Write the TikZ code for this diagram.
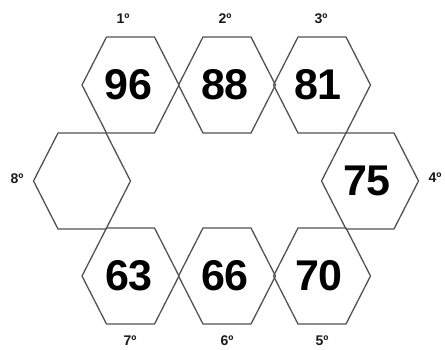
\documentclass[tikz,border=0pt]{standalone}
\usepackage{fontspec}
\setmainfont{Liberation Sans}
\begin{document}
\begin{tikzpicture}[x=1pt,y=-1pt,
  hexline/.style={draw=black!68,line width=1.3pt,line join=miter},
  numtxt/.style={font=\fontsize{43}{43}\selectfont\bfseries,inner sep=0pt,text=black},
  ordtxt/.style={font=\fontsize{14}{14}\selectfont\bfseries,inner sep=0pt,text=black!90}]
\useasboundingbox (0,0) rectangle (445,349);
\def\hexat#1#2{\draw[hexline] (#1-48.5,#2) -- (#1-24,#2-48) -- (#1+24,#2-48) -- (#1+48.5,#2) -- (#1+24,#2+48) -- (#1-24,#2+48) -- cycle;}
% hexagons
\hexat{130.5}{85}
\hexat{227}{85}
\hexat{322}{85}
\hexat{370}{181}
\hexat{322}{276}
\hexat{227}{276}
\hexat{130.5}{276}
\hexat{82}{181}
% numbers
\node[numtxt] (n1) at (128.5,85) {96};
\node[numtxt] (n2) at (225,85) {88};
\node[numtxt] (n3) at (318,85) {81};
\node[numtxt] (n4) at (367,181) {75};
\node[numtxt] (n5) at (319,276) {70};
\node[numtxt] (n6) at (225,276) {66};
\node[numtxt] (n7) at (129,276) {63};
% ordinal labels
\node[ordtxt] (o1) at (123,19) {1º};
\node[ordtxt] (o2) at (225,19) {2º};
\node[ordtxt] (o3) at (321,19) {3º};
\node[ordtxt] (o4) at (435,178) {4º};
\node[ordtxt] (o5) at (322,341) {5º};
\node[ordtxt] (o6) at (227,341) {6º};
\node[ordtxt] (o7) at (130,341) {7º};
\node[ordtxt] (o8) at (17,179) {8º};
\end{tikzpicture}
\end{document}
